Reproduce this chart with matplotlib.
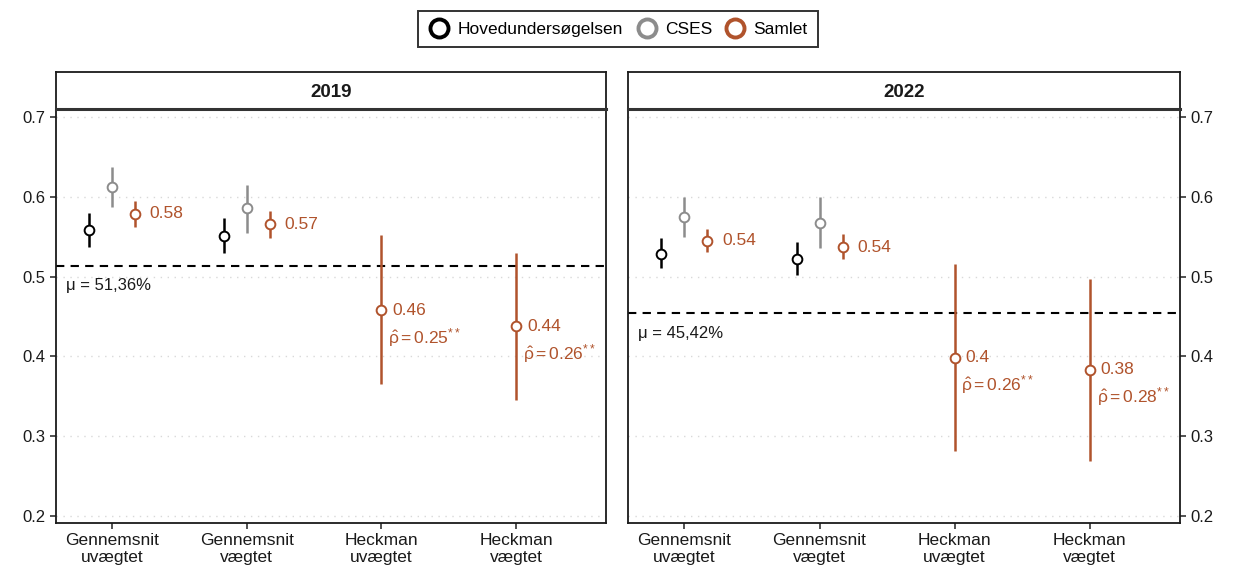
import matplotlib
matplotlib.use("Agg")
import matplotlib.pyplot as plt
from matplotlib.lines import Line2D

plt.rcParams["font.family"] = ["Liberation Sans", "DejaVu Sans"]
plt.rcParams["mathtext.fontset"] = "custom"
plt.rcParams["mathtext.rm"] = "Liberation Sans"
plt.rcParams["mathtext.it"] = "Liberation Sans"

# categories and series
methods = ["Gennemsnit\nuvægtet", "Gennemsnit\nvægtet", "Heckman\nuvægtet", "Heckman\nvægtet"]
years = ["2019", "2022"]
series = ["Hovedundersøgelsen", "CSES", "Samlet"]

# estimates [year][series] -> per method (None = not estimated)
est = {
    "2019": {
        "Hovedundersøgelsen": [0.559, 0.551, None, None],
        "CSES": [0.612, 0.586, None, None],
        "Samlet": [0.579, 0.566, 0.458, 0.438],
    },
    "2022": {
        "Hovedundersøgelsen": [0.528, 0.522, None, None],
        "CSES": [0.575, 0.567, None, None],
        "Samlet": [0.545, 0.537, 0.398, 0.383],
    },
}
lower = {
    "2019": {
        "Hovedundersøgelsen": [0.537, 0.530, None, None],
        "CSES": [0.588, 0.555, None, None],
        "Samlet": [0.562, 0.549, 0.365, 0.345],
    },
    "2022": {
        "Hovedundersøgelsen": [0.511, 0.502, None, None],
        "CSES": [0.550, 0.536, None, None],
        "Samlet": [0.531, 0.522, 0.281, 0.269],
    },
}
upper = {
    "2019": {
        "Hovedundersøgelsen": [0.580, 0.574, None, None],
        "CSES": [0.638, 0.615, None, None],
        "Samlet": [0.595, 0.582, 0.552, 0.530],
    },
    "2022": {
        "Hovedundersøgelsen": [0.549, 0.543, None, None],
        "CSES": [0.600, 0.600, None, None],
        "Samlet": [0.560, 0.553, 0.516, 0.497],
    },
}
samlet_labels = {
    "2019": ["0.58", "0.57", "0.46", "0.44"],
    "2022": ["0.54", "0.54", "0.4", "0.38"],
}
rho = {"2019": [None, None, "0.25", "0.26"], "2022": [None, None, "0.26", "0.28"]}
mu = {"2019": 0.5136, "2022": 0.4542}
mu_text = {"2019": "μ = 51,36%", "2022": "μ = 45,42%"}

colors = {"Hovedundersøgelsen": "#000000", "CSES": "#8c8c8c", "Samlet": "#b0532c"}
dodge = {"Hovedundersøgelsen": -0.17, "CSES": 0.0, "Samlet": 0.17}

W, H = 1235, 569
fig = plt.figure(figsize=(W / 100, H / 100), dpi=100)


def fx(px):
    return px / W


def fy(py):
    return 1 - py / H


panels = [(55.7, 606), (628, 1180)]
for k, year in enumerate(years):
    x0, x1 = panels[k]
    ax = fig.add_axes([fx(x0), fy(523), fx(x1 - x0), fy(109) - fy(523)])
    strip = fig.add_axes([fx(x0), fy(109), fx(x1 - x0), fy(72) - fy(109)])

    ax.set_xlim(0.583, 4.667)
    ax.set_ylim(0.1908, 0.7105)
    ax.set_yticks([0.2, 0.3, 0.4, 0.5, 0.6, 0.7])
    ax.set_yticklabels(["0.2", "0.3", "0.4", "0.5", "0.6", "0.7"])
    ax.set_xticks([1, 2, 3, 4])
    ax.set_xticklabels(methods, fontsize=12.5, color="#1a1a1a", linespacing=1.15)
    ax.tick_params(axis="both", length=4, width=1.2, colors="#333333", labelcolor="#1a1a1a")
    ax.tick_params(axis="y", labelsize=12)
    if k == 1:
        ax.yaxis.tick_right()
    for y in [0.2, 0.3, 0.4, 0.5, 0.6, 0.7]:
        ax.axhline(y, color="#d9d9d9", lw=1.0, ls=(0, (1, 4)), zorder=0)
    for s in ax.spines.values():
        s.set_linewidth(1.3)
        s.set_color("#1a1a1a")

    ax.axhline(mu[year], color="black", lw=1.5, ls=(0, (4, 3)), zorder=1)
    ax.annotate(mu_text[year], (0.66, mu[year]), xytext=(0, -9), textcoords="offset points",
                fontsize=12, va="top", ha="left", color="#1a1a1a")

    for s in series:
        for i in range(4):
            v = est[year][s][i]
            if v is None:
                continue
            x = i + 1 + (dodge[s] if i < 2 else 0.0)
            c = colors[s]
            ax.plot([x, x], [lower[year][s][i], upper[year][s][i]], color=c, lw=1.8,
                    solid_capstyle="butt", zorder=2)
            ax.plot(x, v, "o", ms=7, mfc="white", mec=c, mew=1.4, zorder=3)
            if s == "Samlet":
                dx = 0.11 if i < 2 else 0.08
                ax.text(x + dx, v, samlet_labels[year][i], color=c, fontsize=12.5,
                        va="center", ha="left")
                if rho[year][i] is not None:
                    ax.text(x + 0.05, v - 0.034, r"$\hat{\rho} = " + rho[year][i] + r"^{**}$",
                            color=c, fontsize=12.5, va="center", ha="left")

    strip.set_xticks([])
    strip.set_yticks([])
    for s in strip.spines.values():
        s.set_linewidth(1.3)
        s.set_color("#1a1a1a")
    strip.spines["bottom"].set_linewidth(2.2)
    strip.spines["bottom"].set_color("#333333")
    strip.text(0.5, 0.45, year, transform=strip.transAxes, ha="center", va="center",
               fontsize=13.5, fontweight="bold", color="#1a1a1a")

handles = [Line2D([], [], ls="", marker="o", ms=13, mfc="white", mec=colors[s], mew=2.8)
           for s in series]
leg = fig.legend(handles, series, loc="center", bbox_to_anchor=(fx(618), fy(29)), ncol=3,
                 frameon=True, fancybox=False, fontsize=12.5, handletextpad=0.4,
                 columnspacing=0.7, handlelength=1.3, borderpad=0.6)
leg.get_frame().set_edgecolor("black")
leg.get_frame().set_linewidth(1.4)

fig.savefig("out.png", dpi=100)
